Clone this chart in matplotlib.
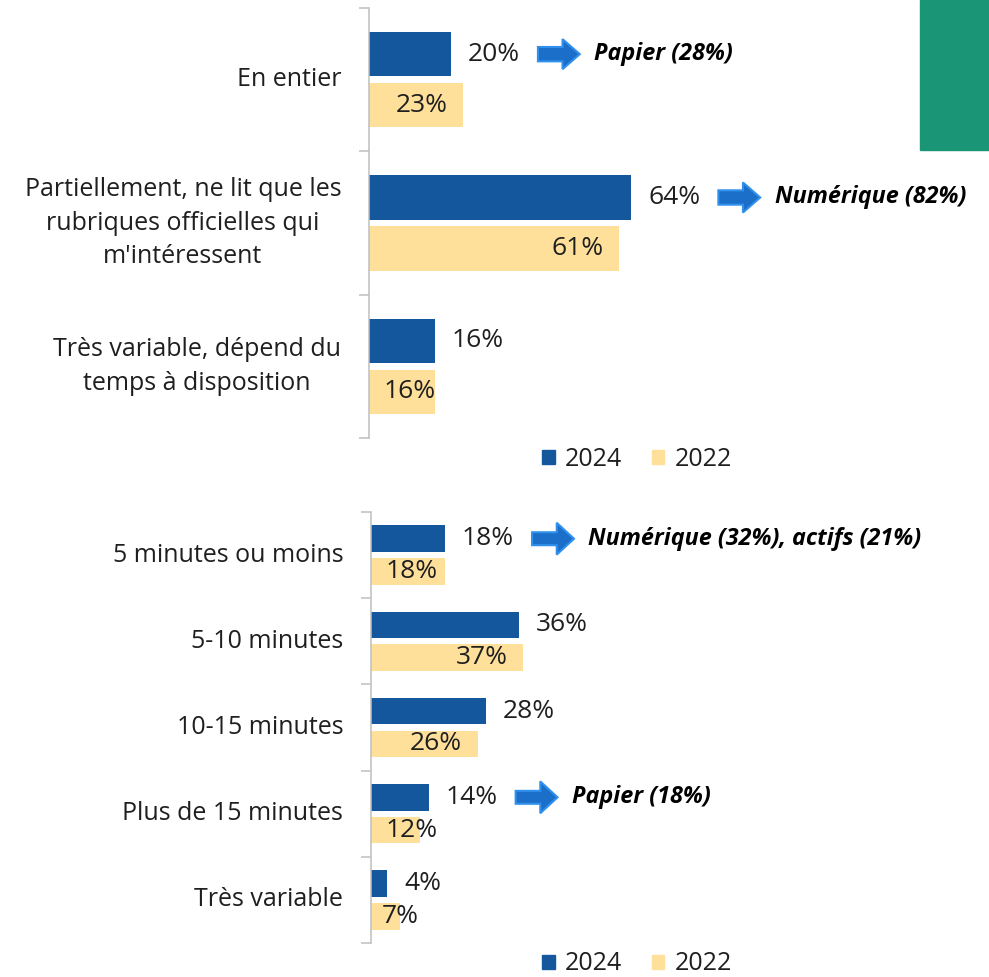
import matplotlib
matplotlib.use("Agg")
import matplotlib.pyplot as plt
from matplotlib.patches import FancyArrow, Rectangle, Patch

plt.rcParams['font.family'] = ['Open Sans', 'DejaVu Sans']

# données
top_cats = ["En entier",
            "Partiellement, ne lit que les\nrubriques officielles qui\nm'intéressent",
            "Très variable, dépend du\ntemps à disposition"]
top_2024 = [20, 64, 16]
top_2022 = [23, 61, 16]
top_notes = ["Papier (28%)", "Numérique (82%)", None]

bot_cats = ["5 minutes ou moins", "5-10 minutes", "10-15 minutes",
            "Plus de 15 minutes", "Très variable"]
bot_2024 = [18, 36, 28, 14, 4]
bot_2022 = [18, 37, 26, 12, 7]
bot_notes = ["Numérique (32%), actifs (21%)", None, None, "Papier (18%)", None]

years = ["2024", "2022"]

C_2024 = '#15579C'
C_2022 = '#FFE09B'
C_AXIS = '#BFBFBF'
C_TEXT = '#1f1f1f'
C_ARROW = '#1B6FC8'
C_ARROW_EDGE = '#2F90EE'

W, H = 989, 977
fig = plt.figure(figsize=(W / 100, H / 100), dpi=100)


def px_axes(left, top, right, bottom):
    return fig.add_axes([left / W, 1 - bottom / H, (right - left) / W, (bottom - top) / H])


def draw_panel(ax, cats, v24, v22, notes, off, bh, xmax, arrow_w, arrow_hw):
    n = len(cats)
    ys = list(range(n))
    ax.barh([y - off for y in ys], v24, height=bh, color=C_2024)
    ax.barh([y + off for y in ys], v22, height=bh, color=C_2022)
    ax.set_xlim(0, xmax)
    ax.set_ylim(n - 0.5, -0.5)
    ax.set_xticks([])
    ax.set_yticks([y - 0.5 for y in range(n + 1)])
    ax.set_yticklabels([])
    ax.tick_params(axis='y', length=7, width=1.1, color=C_AXIS)
    for s in ['top', 'right', 'bottom']:
        ax.spines[s].set_visible(False)
    ax.spines['left'].set_color(C_AXIS)
    ax.spines['left'].set_linewidth(1.1)

    for y, cat in zip(ys, cats):
        ax.annotate(cat, (0, y), xytext=(-20, 0), textcoords='offset points',
                    ha='right', va='center', multialignment='center',
                    linespacing=1.45, fontsize=18, color=C_TEXT)

    for y, a, b, note in zip(ys, v24, v22, notes):
        ax.annotate(f"{a}%", (a, y - off), xytext=(12, 0), textcoords='offset points',
                    ha='left', va='center', fontsize=19, color=C_TEXT)
        # étiquette 2022 : dans la barre, ou débordant si la barre est trop courte
        ax.text(max(b - 3.8, min(b + 4.5, 16.3)), y + off, f"{b}%", ha='right', va='center',
                fontsize=19, color=C_TEXT)
        if note:
            x0 = a + 21.2
            ax.add_patch(FancyArrow(x0, y - off, 10.2, 0, width=arrow_w,
                                    head_width=arrow_hw, head_length=4.2,
                                    length_includes_head=True,
                                    facecolor=C_ARROW, edgecolor=C_ARROW_EDGE,
                                    linewidth=1.5, clip_on=False))
            ax.text(x0 + 10.2 + 3.5, y - off, note, ha='left', va='center',
                    fontsize=16.8, fontweight='bold', fontstyle='italic', color='black')


# panneau haut
ax1 = px_axes(369, 8, 989, 438)
draw_panel(ax1, top_cats, top_2024, top_2022, top_notes, 0.178, 0.31, 151.2, 0.1, 0.21)

# panneau bas
ax2 = px_axes(371, 512, 989, 943)
draw_panel(ax2, bot_cats, bot_2024, bot_2022, bot_notes, 0.19, 0.31, 150.4, 0.15, 0.37)

handles = [Patch(color=C_2024), Patch(color=C_2022)]
for yc in [459, 964]:
    fig.legend(handles, years, loc='center', bbox_to_anchor=(637 / W, 1 - yc / H),
               ncol=2, frameon=False, fontsize=18, handlelength=0.5, handleheight=0.5,
               handletextpad=0.4, columnspacing=1.2, labelcolor=C_TEXT)

fig.patches.append(Rectangle((920 / W, 1 - 150 / H), 69 / W, 150 / H,
                             transform=fig.transFigure, color='#1A9676'))

fig.savefig("out.png", dpi=100)
